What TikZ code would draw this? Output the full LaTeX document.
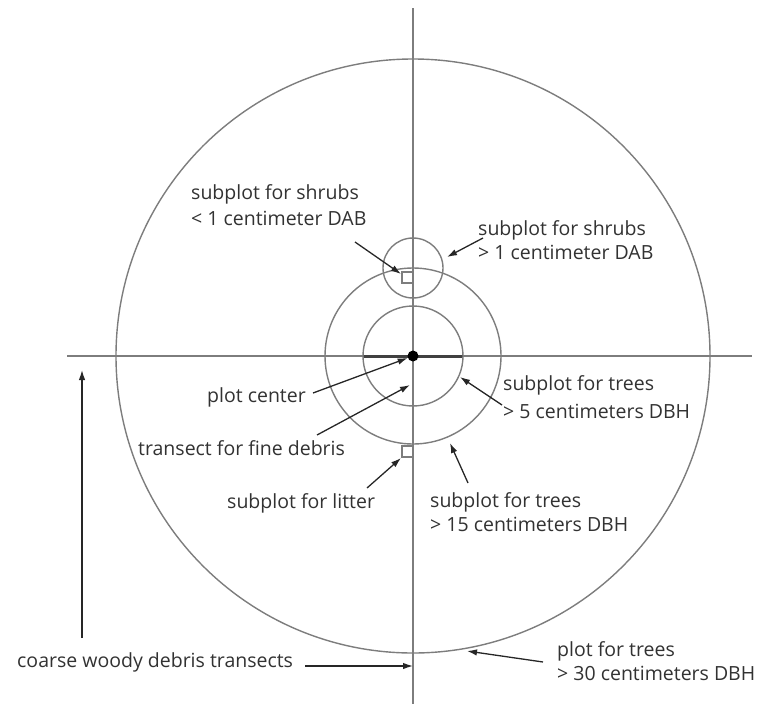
\documentclass[tikz,border=0pt]{standalone}
\usepackage{fontspec}
\setmainfont{Open Sans}
\usetikzlibrary{positioning,arrows.meta}
\definecolor{linegray}{RGB}{125,125,125}
\definecolor{txtgray}{RGB}{50,50,50}

\begin{document}
\begin{tikzpicture}[x=1pt,y=-1pt,
  lbl/.style={inner sep=0pt,anchor=west,align=left,text=txtgray,font=\fontsize{19.5}{24}\selectfont},
  ring/.style={draw=linegray,line width=1.4pt},
  pointer/.style={-{Latex[length=10pt,width=6.5pt]},line width=1.3pt,black!85}]
\useasboundingbox (0,0) rectangle (759,704);
% transect lines through the plot center
\draw[ring] (413,8) -- (413,704);
\draw[ring] (67,356) -- (752,356);
\draw[line width=3pt,black!75] (363,356) -- (463,356);
% plot and subplot circles
\draw[ring] (413,356) circle (297pt);
\draw[ring] (413,356) circle (88pt);
\draw[ring] (413,356) circle (50pt);
\draw[ring] (413,268) circle (30pt);
\draw[ring,line width=1.2pt] (402,272) rectangle (413,283);
\draw[ring,line width=1.2pt] (402,446) rectangle (413,457);
\node[circle,fill=black,inner sep=0pt,minimum size=11pt] (dot) at (413,356) {};
% arrow targets
\coordinate (sqtop) at (401,274);
\coordinate (shrubtip) at (447,257);
\coordinate (finetip) at (410,385);
\coordinate (littertip) at (401,458);
\coordinate (t5tip) at (460,377);
\coordinate (t15tip) at (450,443);
\coordinate (t30tip) at (467,651);
\coordinate (coarsetip) at (413,666);
\coordinate (coarseup) at (82,370);
% labels
\node[lbl,font=\fontsize{19.5}{26}\selectfont] (shrubsmall) at (191,205) {subplot for shrubs\\< 1 centimeter DAB};
\node[lbl] (shrubbig) at (478,240) {subplot for shrubs\\> 1 centimeter DAB};
\node[lbl] (centerlbl) at (207,397) {plot center};
\node[lbl] (finelbl) at (138,448) {transect for fine debris};
\node[lbl] (litterlbl) at (227,503) {subplot for litter};
\node[lbl,font=\fontsize{19.5}{28}\selectfont] (trees5lbl) at (503,397) {subplot for trees\\> 5 centimeters DBH};
\node[lbl] (trees15lbl) at (430,512) {subplot for trees\\> 15 centimeters DBH};
\node[lbl] (trees30lbl) at (557,661) {plot for trees\\> 30 centimeters DBH};
\node[lbl] (coarselbl) at (17,662) {coarse woody debris transects};
% pointers
\draw[pointer] ([xshift=164pt,yshift=-37pt]shrubsmall.west) -- (sqtop);
\draw[pointer] ([xshift=5pt,yshift=2pt]shrubbig.west) -- (shrubtip);
\draw[pointer] ([xshift=106pt,yshift=4pt]centerlbl.west) -- (dot);
\draw[pointer] ([xshift=179pt,yshift=13pt]finelbl.west) -- (finetip);
\draw[pointer] ([xshift=140pt,yshift=15pt]litterlbl.west) -- (littertip);
\draw[pointer] ([xshift=-1pt,yshift=-8pt]trees5lbl.west) -- (t5tip);
\draw[pointer] ([xshift=38pt,yshift=29pt]trees15lbl.west) -- (t15tip);
\draw[pointer] ([xshift=-14pt,yshift=-1pt]trees30lbl.west) -- (t30tip);
\draw[pointer] ([xshift=288pt,yshift=-4pt]coarselbl.west) -- (coarsetip);
\draw[pointer] ([xshift=65pt,yshift=24pt]coarselbl.west) -- (coarseup);
\end{tikzpicture}
\end{document}
